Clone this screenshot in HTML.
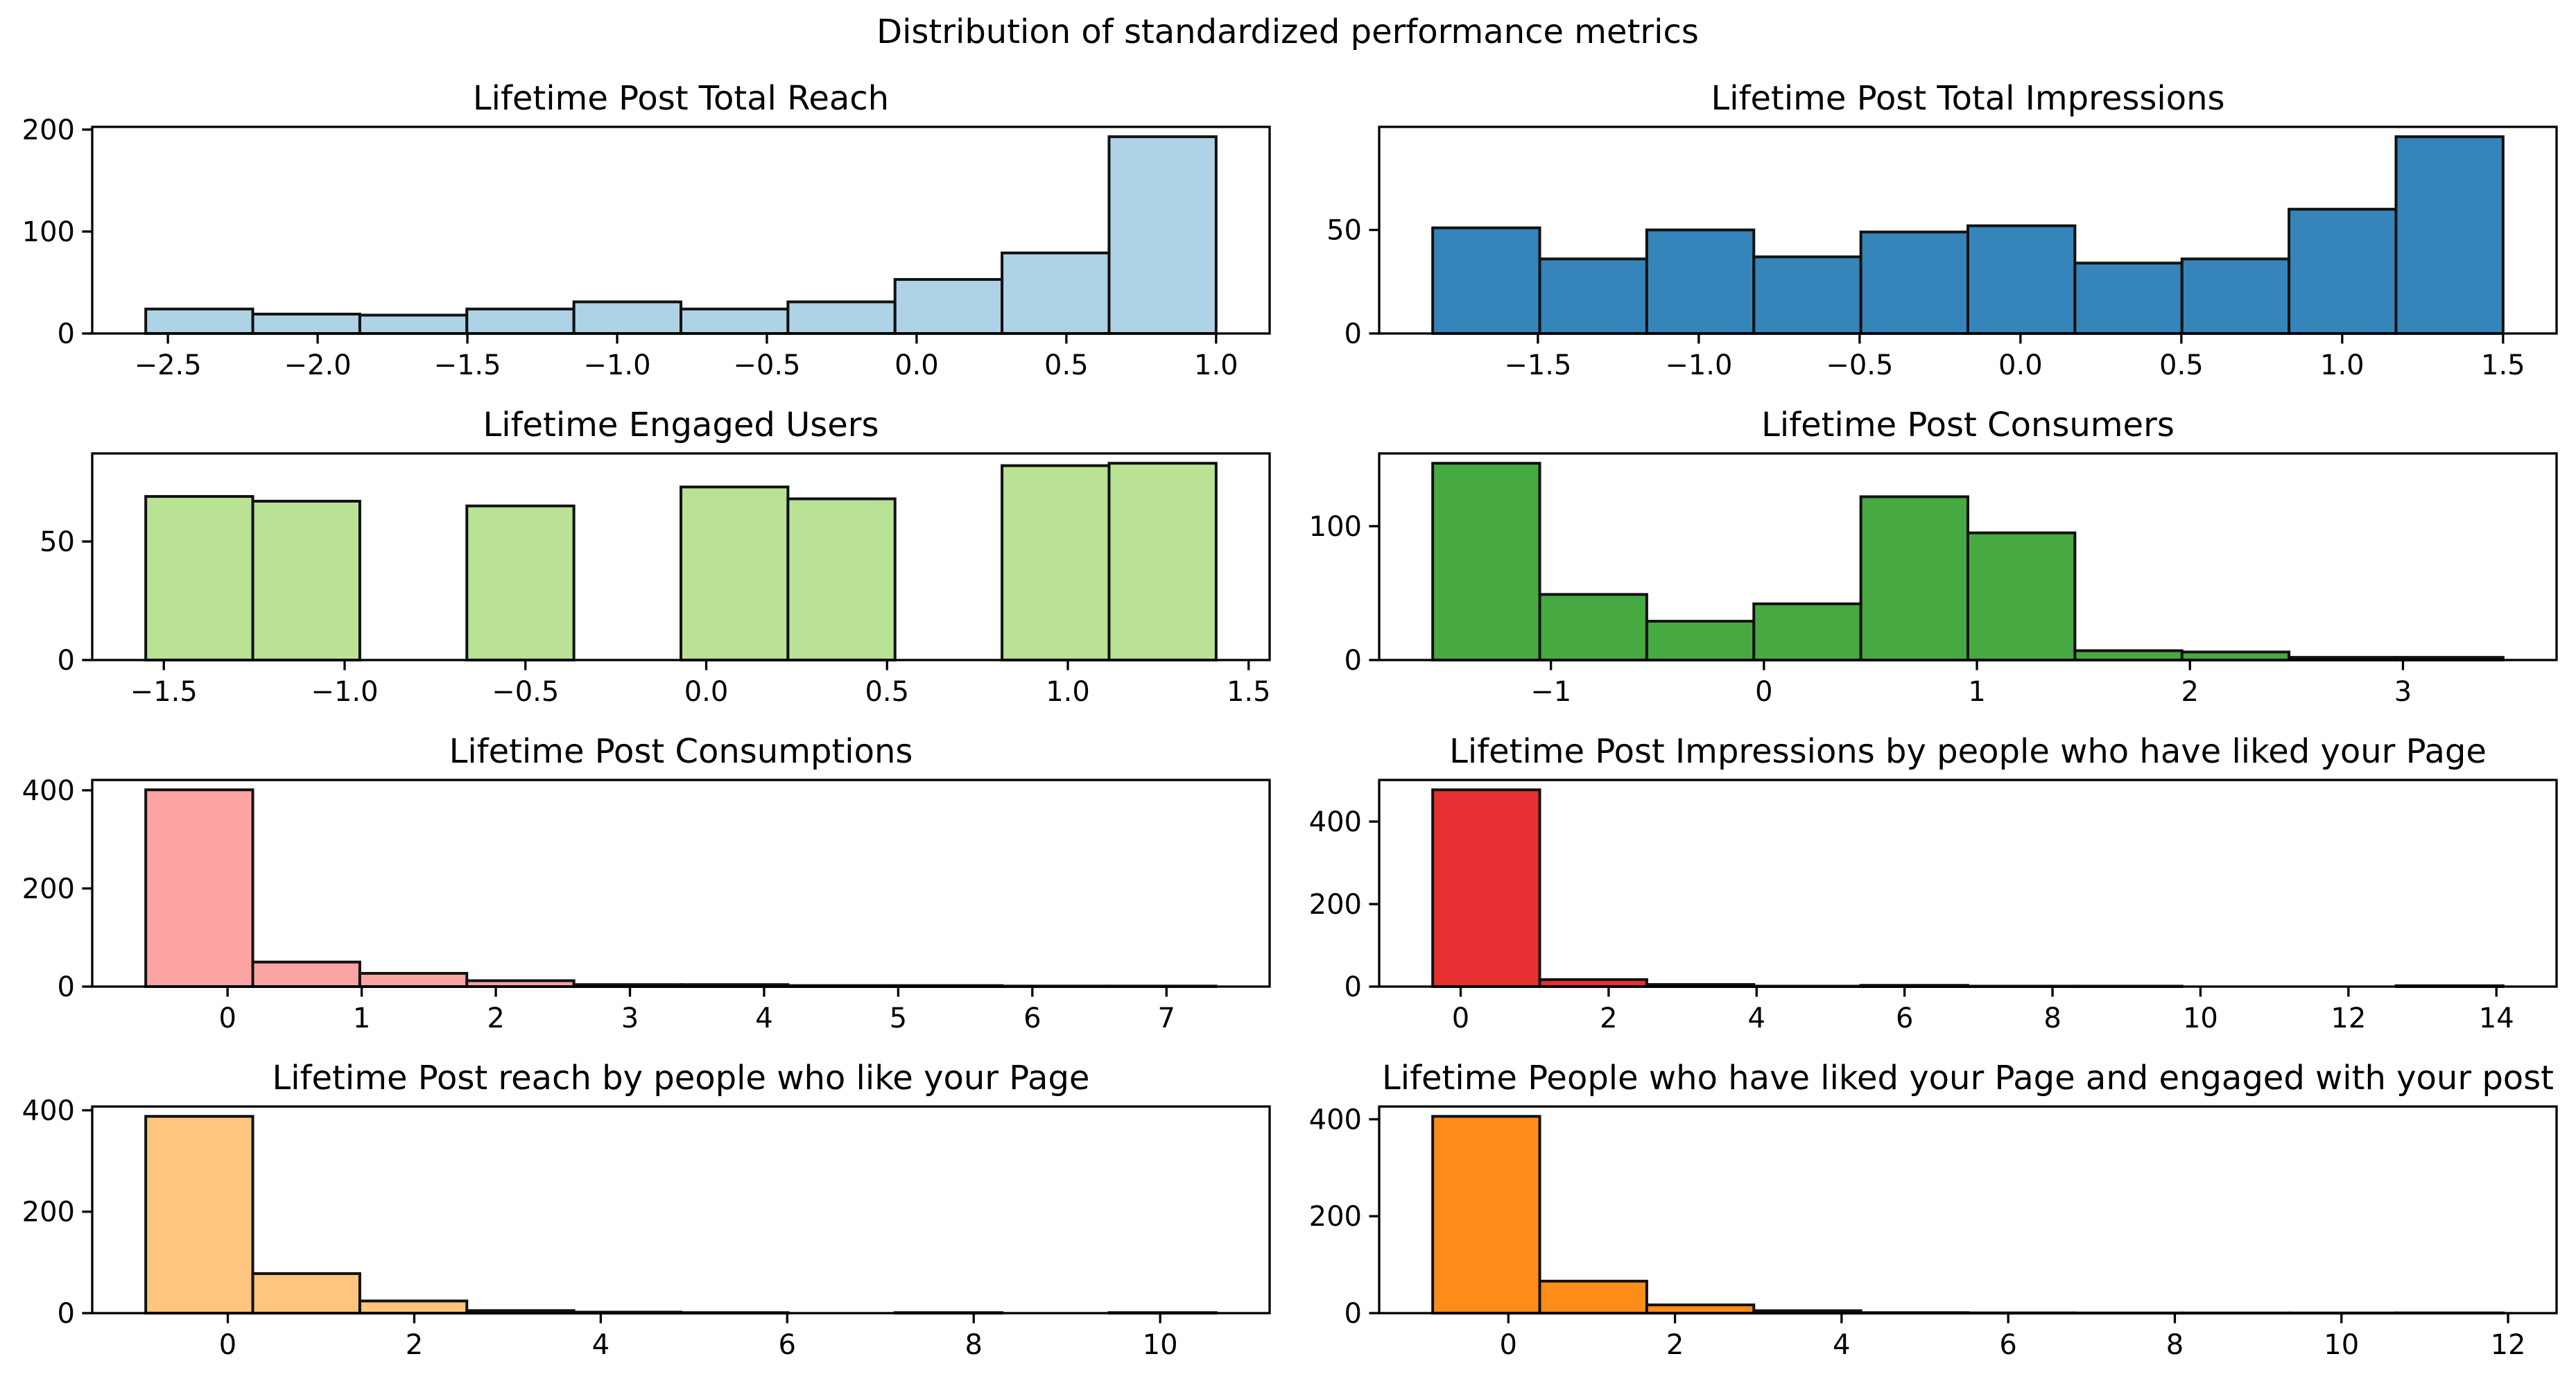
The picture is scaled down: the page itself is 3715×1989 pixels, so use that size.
<!DOCTYPE html>
<html><head><meta charset="utf-8"><style>
html,body{margin:0;padding:0;background:#fff;}
svg{display:block;font-family:"DejaVu Sans","Liberation Sans",sans-serif;}
</style></head><body>
<svg id="fig" width="3715" height="1989" viewBox="0 0 3715 1989" xmlns="http://www.w3.org/2000/svg">
<rect width="3715" height="1989" fill="#fff"/>
<text x="1857" y="62" font-size="48" text-anchor="middle">Distribution of standardized performance metrics</text>
</svg>
<script>
// ---- data ----
const titles = ["Lifetime Post Total Reach","Lifetime Post Total Impressions","Lifetime Engaged Users","Lifetime Post Consumers","Lifetime Post Consumptions","Lifetime Post Impressions by people who have liked your Page","Lifetime Post reach by people who like your Page","Lifetime People who have liked your Page and engaged with your post"];
const countsReach = [24,19,18,24,31,24,31,53,79,193];
const countsImpr = [51,36,50,37,49,52,34,36,60,95];
const countsEngaged = [69,67,0,65,0,73,68,0,82,83];
const countsConsumers = [147,49,29,42,122,95,7,6,2,2];
const countsConsumptions = [401,50,27,12,4,4,2,2,1,1];
const countsImprLiked = [477,17,5,1,3,1,1,0,0,2];
const countsReachLiked = [388,78,24,5,2,1,0,1,0,1];
const countsPeopleLiked = [406,66,17,5,1,0.5,0.3,0.3,0.3,0.5];
const dataMin = [-2.574,-1.827,-1.55,-1.555,-0.61,-0.378,-0.88,-0.908];
const dataMax = [1.0,1.5,1.41,3.47,7.37,14.09,10.6,11.94];
const xTicks = [[-2.5,-2,-1.5,-1,-0.5,0,0.5,1],[-1.5,-1,-0.5,0,0.5,1,1.5],[-1.5,-1,-0.5,0,0.5,1,1.5],[-1,0,1,2,3],[0,1,2,3,4,5,6,7],[0,2,4,6,8,10,12,14],[0,2,4,6,8,10],[0,2,4,6,8,10,12]];
const xDecimals = [1,1,1,0,0,0,0,0];
const yTicks = [[0,100,200],[0,50],[0,50],[0,100],[0,200,400],[0,200,400],[0,200,400],[0,200,400]];
const allCounts = [countsReach,countsImpr,countsEngaged,countsConsumers,countsConsumptions,countsImprLiked,countsReachLiked,countsPeopleLiked];
const colors = ["#a6cee3","#1f78b4","#b2df8a","#33a02c","#fb9a99","#e31a1c","#fdbf6f","#ff7f00"];
// ---- layout ----
const NS="http://www.w3.org/2000/svg";
const svg=document.getElementById('fig');
const colX=[133,1989], rowY=[183,654,1125,1596], W=1698, H=298;
function mk(tag,attrs,parent){const e=document.createElementNS(NS,tag);for(const k in attrs)e.setAttribute(k,attrs[k]);(parent||svg).appendChild(e);return e;}
function fmt(v,d){const s=Math.abs(v).toFixed(d);return (v<0?"\u2212":"")+s;}
allCounts.forEach((counts,i)=>{
  const ax=colX[i%2], ay=rowY[Math.floor(i/2)];
  const g=mk('g',{});
  
  
  const lo=dataMin[i], hi=dataMax[i], span=hi-lo;
  const xmin=lo-0.05*span, xmax=hi+0.05*span;
  const ymax=Math.max(...counts)*1.05;
  const X=v=>ax+(v-xmin)/(xmax-xmin)*W;
  const Y=v=>ay+H-v/ymax*H;
  const bw=span/counts.length;
  counts.forEach((c,j)=>{
    const x0=X(lo+j*bw), x1=X(lo+(j+1)*bw);
    const r=mk('rect',{x:x0,y:Y(c),width:x1-x0,height:Y(0)-Y(c),fill:colors[i],'fill-opacity':0.9,stroke:'#111','stroke-width':4},g);
    
    
  });
  const fr=mk('rect',{x:ax,y:ay,width:W,height:H,fill:'none',stroke:'#000','stroke-width':3.3},g);
  
  
  xTicks[i].forEach(t=>{
    const x=X(t);
    mk('line',{x1:x,x2:x,y1:ay+H,y2:ay+H+14.6,stroke:'#000','stroke-width':3.3},g);
    const tx=mk('text',{x:x,y:ay+H+59,'font-size':40,'text-anchor':'middle'},g);
    tx.textContent=fmt(t,xDecimals[i]);
    
    
  });
  yTicks[i].forEach(t=>{
    const y=Y(t);
    mk('line',{x1:ax-14.6,x2:ax,y1:y,y2:y,stroke:'#000','stroke-width':3.3},g);
    const ty=mk('text',{x:ax-25,y:y+14,'font-size':40,'text-anchor':'end'},g);
    ty.textContent=String(t);
    
    
  });
  const tt=mk('text',{x:ax+W/2,y:ay-25,'font-size':48,'text-anchor':'middle'},g);
  tt.textContent=titles[i];
  
  
});
</script>
</body></html>
